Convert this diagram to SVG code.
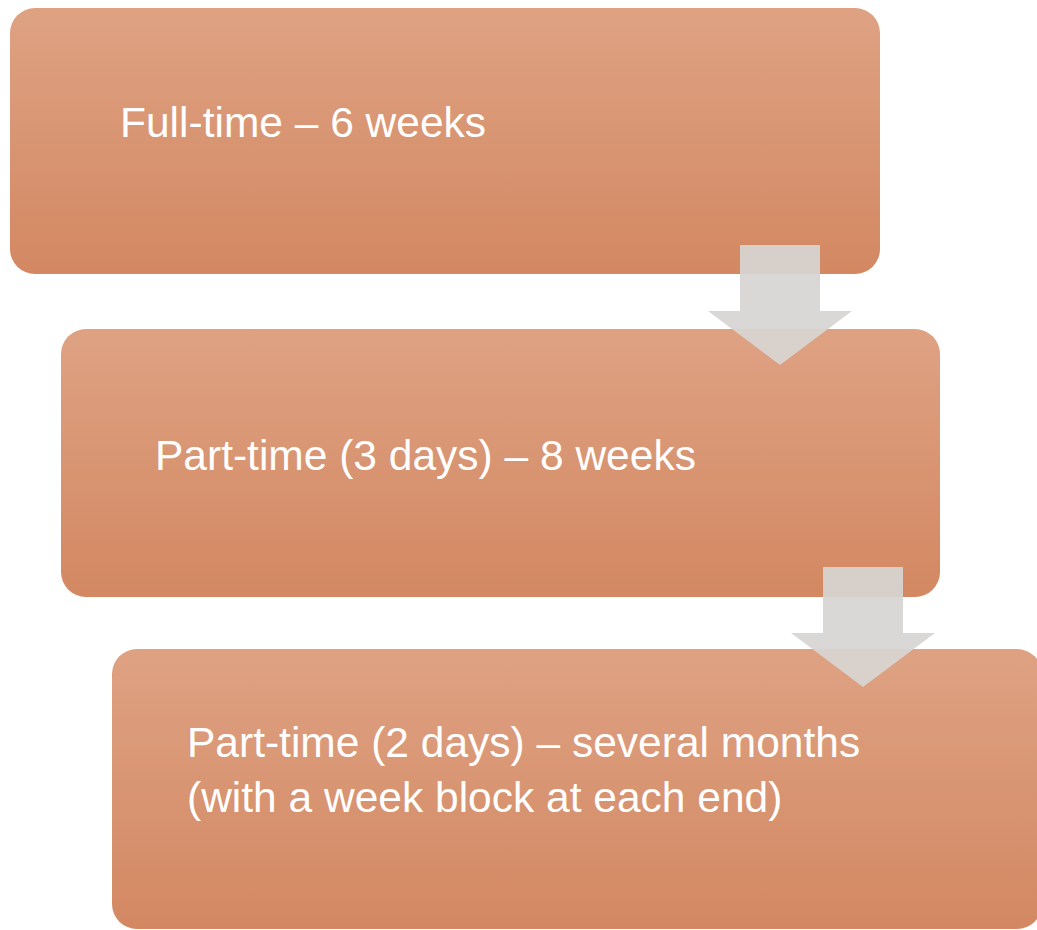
<svg xmlns="http://www.w3.org/2000/svg" width="1037" height="930" viewBox="0 0 1037 930">
  <defs>
    <linearGradient id="boxGrad" x1="0" y1="0" x2="0" y2="1">
      <stop offset="0" stop-color="#dea283"/>
      <stop offset="1" stop-color="#d38862"/>
    </linearGradient>
    <style>
      .box { fill: url(#boxGrad); }
      .lbl { font-family: "Liberation Sans", Arial, sans-serif; font-size: 42.5px; fill: #ffffff; }
      .arrow { fill: #d7d5d2; fill-opacity: 0.92; }
    </style>
  </defs>
  <rect width="1037" height="930" fill="#ffffff"/>
  <g id="node1">
    <rect class="box" x="10" y="8" width="870" height="266" rx="25" ry="25"/>
    <text class="lbl" x="120" y="137">Full-time – 6 weeks</text>
  </g>
  <g id="node2">
    <rect class="box" x="61" y="329" width="879" height="268" rx="25" ry="25"/>
    <text class="lbl" x="155" y="470">Part-time (3 days) – 8 weeks</text>
  </g>
  <g id="node3">
    <rect class="box" x="112" y="649" width="930" height="280" rx="25" ry="25"/>
    <text class="lbl" x="187" y="757">Part-time (2 days) – several months</text>
    <text class="lbl" x="187" y="812">(with a week block at each end)</text>
  </g>
  <g id="connectors">
    <polygon class="arrow" points="740,245 820,245 820,311 852,311 780,365 708,311 740,311"/>
    <polygon class="arrow" points="823,567 903,567 903,633 935,633 863,687 791,633 823,633"/>
  </g>
</svg>
